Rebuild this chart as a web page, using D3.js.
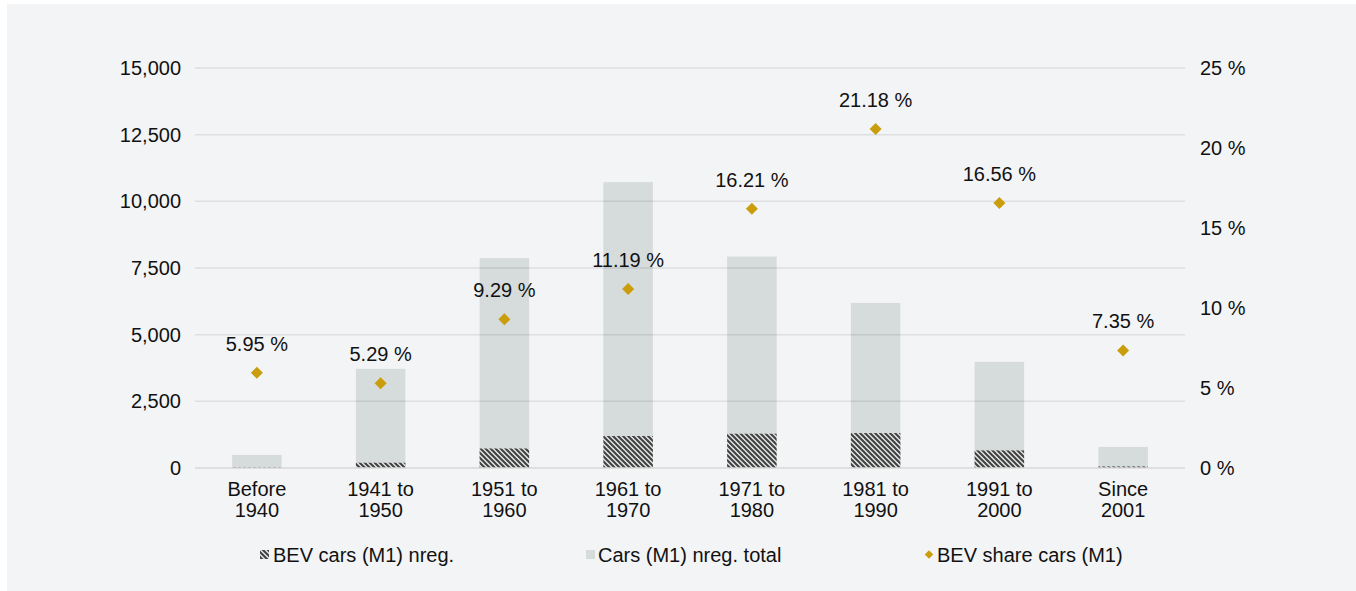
<!DOCTYPE html>
<html>
<head>
<meta charset="utf-8">
<script src="https://cdn.jsdelivr.net/npm/d3@7"></script>
<style>
  html, body { margin: 0; padding: 0; background: #ffffff; }
  svg { display: block; font-family: "Liberation Sans", Arial, sans-serif; }
</style>
</head>
<body>
<div id="chart"></div>
<script>
// data
let categories = ["Before 1940", "1941 to 1950", "1951 to 1960", "1961 to 1970", "1971 to 1980", "1981 to 1990", "1991 to 2000", "Since 2001"];
let catLines = [["Before", "1940"], ["1941 to", "1950"], ["1951 to", "1960"], ["1961 to", "1970"], ["1971 to", "1980"], ["1981 to", "1990"], ["1991 to", "2000"], ["Since", "2001"]];
let carsTotal = [490, 3720, 7870, 10720, 7930, 6190, 3980, 790];
let bevCars = [29, 197, 731, 1200, 1285, 1311, 659, 58];
let bevShare = [5.95, 5.29, 9.29, 11.19, 16.21, 21.18, 16.56, 7.35];
let leftTicks = [0, 2500, 5000, 7500, 10000, 12500, 15000];
let rightTicks = [0, 5, 10, 15, 20, 25];
let legendNames = ["BEV cars (M1) nreg.", "Cars (M1) nreg. total", "BEV share cars (M1)"];

let W = 1356, H = 591;
let margin = { top: 68, right: 171, bottom: 123, left: 195 },
  width = W - margin.left - margin.right,
  height = H - margin.top - margin.bottom;

let svg = d3.select("#chart").append("svg").attr("width", W).attr("height", H);

// panel background
svg.append("rect").attr("x", 7).attr("y", 4).attr("width", W - 7).attr("height", H - 4).attr("fill", "#f3f4f6");

// hatch pattern for BEV bars
let defs = svg.append("defs");
let pat = defs.append("pattern").attr("id", "hatch").attr("patternUnits", "userSpaceOnUse").attr("width", 5).attr("height", 5);
pat.append("rect").attr("width", 5).attr("height", 5).attr("fill", "#e2e4e4");
pat.append("path").attr("d", "M-1,-1 L6,6 M-1,4 L1,6 M4,-1 L6,1").attr("stroke", "#404040").attr("stroke-width", 2);

let g = svg.append("g").attr("transform", "translate(" + margin.left + "," + margin.top + ")");

let x = d3.scaleBand().domain(categories).range([0, width]).paddingInner(0.6).paddingOuter(0.3);
let y = d3.scaleLinear().domain([0, 15000]).range([height, 0]);
let y2 = d3.scaleLinear().domain([0, 25]).range([height, 0]);

// total bars
g.selectAll(".total").data(categories).enter().append("rect")
  .attr("class", "total")
  .attr("x", (d) => x(d))
  .attr("width", x.bandwidth())
  .attr("y", (d, i) => y(carsTotal[i]))
  .attr("height", (d, i) => height - y(carsTotal[i]))
  .attr("fill", "#d6dbdb");

// BEV bars (hatched)
g.selectAll(".bev").data(categories).enter().append("rect")
  .attr("class", "bev")
  .attr("x", (d) => x(d))
  .attr("width", x.bandwidth())
  .attr("y", (d, i) => y(bevCars[i]))
  .attr("height", (d, i) => height - y(bevCars[i]))
  .attr("fill", "url(#hatch)");

// gridlines (drawn over bars, faint)
g.append("g").selectAll("line").data(leftTicks.slice(1)).enter().append("line")
  .attr("x1", 0).attr("x2", width)
  .attr("y1", (d) => y(d)).attr("y2", (d) => y(d))
  .attr("stroke", "#000").attr("stroke-opacity", 0.09).attr("stroke-width", 1.5);

// baseline
g.append("line").attr("x1", 0).attr("x2", width).attr("y1", height).attr("y2", height)
  .attr("stroke", "#d9d9d9").attr("stroke-width", 1.5);

// left axis
let yAxis = g.append("g").call(d3.axisLeft(y).tickValues(leftTicks).tickSize(0).tickPadding(14).tickFormat(d3.format(",")));
yAxis.select(".domain").remove();
yAxis.selectAll("text").attr("font-size", 20).attr("fill", "#111").attr("font-family", "Liberation Sans, Arial, sans-serif");

// right axis
let y2Axis = g.append("g").attr("transform", "translate(" + width + ",0)")
  .call(d3.axisRight(y2).tickValues(rightTicks).tickSize(0).tickPadding(15).tickFormat((d) => d + " %"));
y2Axis.select(".domain").remove();
y2Axis.selectAll("text").attr("font-size", 20).attr("fill", "#111").attr("font-family", "Liberation Sans, Arial, sans-serif");

// category labels (two lines)
let cat = g.append("g").selectAll("text").data(categories).enter().append("text")
  .attr("x", (d) => x(d) + x.bandwidth() / 2)
  .attr("y", height + 28)
  .attr("text-anchor", "middle")
  .attr("font-size", 20)
  .attr("fill", "#111");
cat.each(function (d, i) {
  let t = d3.select(this);
  catLines[i].forEach((line, j) => {
    t.append("tspan").attr("x", x(d) + x.bandwidth() / 2).attr("dy", j === 0 ? 0 : 21).text(line);
  });
});

// share diamonds
let diamond = d3.symbol().type(d3.symbolSquare).size(72);
g.selectAll(".share").data(categories).enter().append("path")
  .attr("class", "share")
  .attr("d", diamond)
  .attr("transform", (d, i) => "translate(" + (x(d) + x.bandwidth() / 2) + "," + y2(bevShare[i]) + ") rotate(45)")
  .attr("fill", "#c99d0c");

// share labels
g.selectAll(".shareLabel").data(categories).enter().append("text")
  .attr("class", "shareLabel")
  .attr("x", (d) => x(d) + x.bandwidth() / 2)
  .attr("y", (d, i) => y2(bevShare[i]) - 22)
  .attr("text-anchor", "middle")
  .attr("font-size", 20)
  .attr("fill", "#111")
  .text((d, i) => bevShare[i].toFixed(2) + " %");

// legend
let legend = svg.append("g").attr("transform", "translate(0,562)");
let legX = [273, 598, 937];
legend.append("rect").attr("x", legX[0] - 13).attr("y", -12).attr("width", 9).attr("height", 9).attr("fill", "url(#hatch)");
legend.append("rect").attr("x", legX[1] - 12).attr("y", -12).attr("width", 9).attr("height", 9).attr("fill", "#d6dbdb");
legend.append("path").attr("d", d3.symbol().type(d3.symbolSquare).size(36))
  .attr("transform", "translate(" + (legX[2] - 8) + ",-7.5) rotate(45)").attr("fill", "#c99d0c");
legend.selectAll("text").data(legendNames).enter().append("text")
  .attr("x", (d, i) => legX[i])
  .attr("y", 0)
  .attr("font-size", 20)
  .attr("fill", "#111")
  .text((d) => d);
</script>
</body>
</html>
